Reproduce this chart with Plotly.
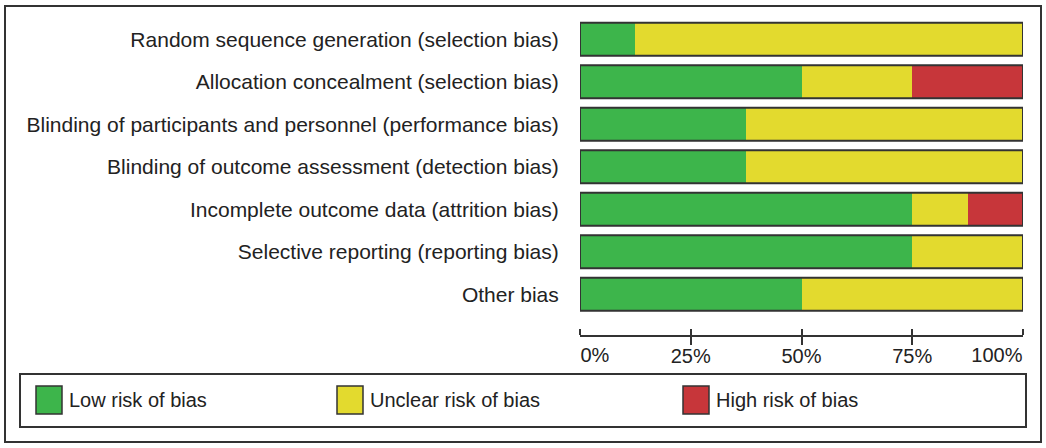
import plotly.graph_objects as go

# risk of bias domains, top to bottom
domains = [
    "Random sequence generation (selection bias)",
    "Allocation concealment (selection bias)",
    "Blinding of participants and personnel (performance bias)",
    "Blinding of outcome assessment (detection bias)",
    "Incomplete outcome data (attrition bias)",
    "Selective reporting (reporting bias)",
    "Other bias",
]

# percentage of studies per judgement
low_risk = [12.5, 50, 37.5, 37.5, 75, 75, 50]
unclear_risk = [87.5, 25, 62.5, 62.5, 12.5, 25, 50]
high_risk = [0, 25, 0, 0, 12.5, 0, 0]

series_names = ["Low risk of bias", "Unclear risk of bias", "High risk of bias"]
series_colors = ["#3db54b", "#e3da2e", "#c7363a"]

tick_vals = [0, 25, 50, 75, 100]
tick_text = ["0%", "25%", "50%", "75%", "100%"]

W, H = 1046, 448
L, R, T, B = 580, 1023, 18, 335
PITCH = 42.5
FONT = "Liberation Sans"
DARK = "#333333"
TEXT = "#222222"


def fx(px):
    return (px - L) / (R - L)


def fy(py):
    return (B - py) / (B - T)


fig = go.Figure()
for name, color, vals in zip(series_names, series_colors, [low_risk, unclear_risk, high_risk]):
    fig.add_trace(go.Bar(
        y=domains,
        x=vals,
        orientation="h",
        name=name,
        marker=dict(color=color, line=dict(width=0)),
        showlegend=False,
        hovertemplate="%{y}<br>" + name + ": %{x}%<extra></extra>",
    ))

# empty traces so the two overlay axes holding the end labels get drawn
for ax in ["x2", "x3"]:
    fig.add_trace(go.Scatter(
        x=[], y=[], xaxis=ax, yaxis="y",
        mode="markers", showlegend=False, hoverinfo="skip",
    ))

shapes = []
bar_half = (1 - 0.224) / 2
for i in range(len(domains)):
    total = low_risk[i] + unclear_risk[i] + high_risk[i]
    shapes.append(dict(
        type="rect", xref="x", yref="y",
        x0=0, x1=total, y0=i - bar_half, y1=i + bar_half,
        line=dict(color=DARK, width=2), fillcolor="rgba(0,0,0,0)",
    ))

# outer frame
shapes.append(dict(
    type="rect", xref="paper", yref="paper",
    x0=fx(5), x1=fx(1041), y0=fy(442), y1=fy(6),
    line=dict(color=DARK, width=2), fillcolor="rgba(0,0,0,0)",
))
# legend frame
shapes.append(dict(
    type="rect", xref="paper", yref="paper",
    x0=fx(20), x1=fx(1026), y0=fy(427), y1=fy(374),
    line=dict(color=DARK, width=2), fillcolor="rgba(0,0,0,0)",
))

annotations = []
legend_x = [36, 337, 683]
for name, color, x0 in zip(series_names, series_colors, legend_x):
    shapes.append(dict(
        type="rect", xref="paper", yref="paper",
        x0=fx(x0), x1=fx(x0 + 26), y0=fy(414), y1=fy(386),
        line=dict(color=DARK, width=1.5), fillcolor=color,
    ))
    annotations.append(dict(
        xref="paper", yref="paper", x=fx(x0 + 31), y=fy(400),
        text=name, showarrow=False, xanchor="left", yanchor="middle",
        font=dict(family=FONT, size=20, color=TEXT),
    ))

tick_font = dict(family=FONT, size=20, color=TEXT)

# the middle labels are centred on their ticks
middle_text = [""] + tick_text[1:-1] + [""]


def end_axis(val, text, side):
    # overlay axis carrying one end label, kept inside the axis span
    return dict(
        overlaying="x", anchor="y", side="bottom",
        range=[0, 100], tickvals=[val], ticktext=[text],
        ticklabelposition="outside " + side,
        ticklabelstandoff=2,
        ticks="outside", ticklen=8, tickcolor="rgba(0,0,0,0)",
        showline=False, showgrid=False, zeroline=False,
        automargin=False, fixedrange=True, tickfont=tick_font,
    )


fig.update_layout(
    width=W, height=H, autosize=False,
    margin=dict(l=L, r=W - R, t=T, b=H - B, pad=0, autoexpand=False),
    barmode="stack",
    bargap=0.224,
    plot_bgcolor="white",
    paper_bgcolor="white",
    font=dict(family=FONT, size=20, color=TEXT),
    shapes=shapes,
    annotations=annotations,
    xaxis=dict(
        range=[0, 100],
        tickvals=tick_vals,
        ticktext=middle_text,
        ticklabelstandoff=-6,
        automargin=False,
        showgrid=False,
        zeroline=False,
        showline=True,
        linecolor=DARK,
        linewidth=2,
        ticks="outside",
        ticklen=8,
        tickwidth=2,
        tickcolor=DARK,
        minor=dict(ticks="inside", tickvals=tick_vals, ticklen=6, tickwidth=2, tickcolor=DARK, showgrid=False),
        tickfont=tick_font,
        fixedrange=True,
    ),
    xaxis2=end_axis(tick_vals[0], tick_text[0], "right"),
    xaxis3=end_axis(tick_vals[-1], tick_text[-1], "left"),
    yaxis=dict(
        range=[(B - T) / PITCH - 0.5, -0.5],
        automargin=False,
        showgrid=False,
        zeroline=False,
        showline=False,
        ticks="outside",
        ticklen=16,
        tickcolor="rgba(0,0,0,0)",
        tickfont=dict(family=FONT, size=21, color=TEXT),
        fixedrange=True,
    ),
)

fig.write_html(
    "out.html",
    config={"displayModeBar": False},
    post_script="document.body.style.margin='0';",
)
